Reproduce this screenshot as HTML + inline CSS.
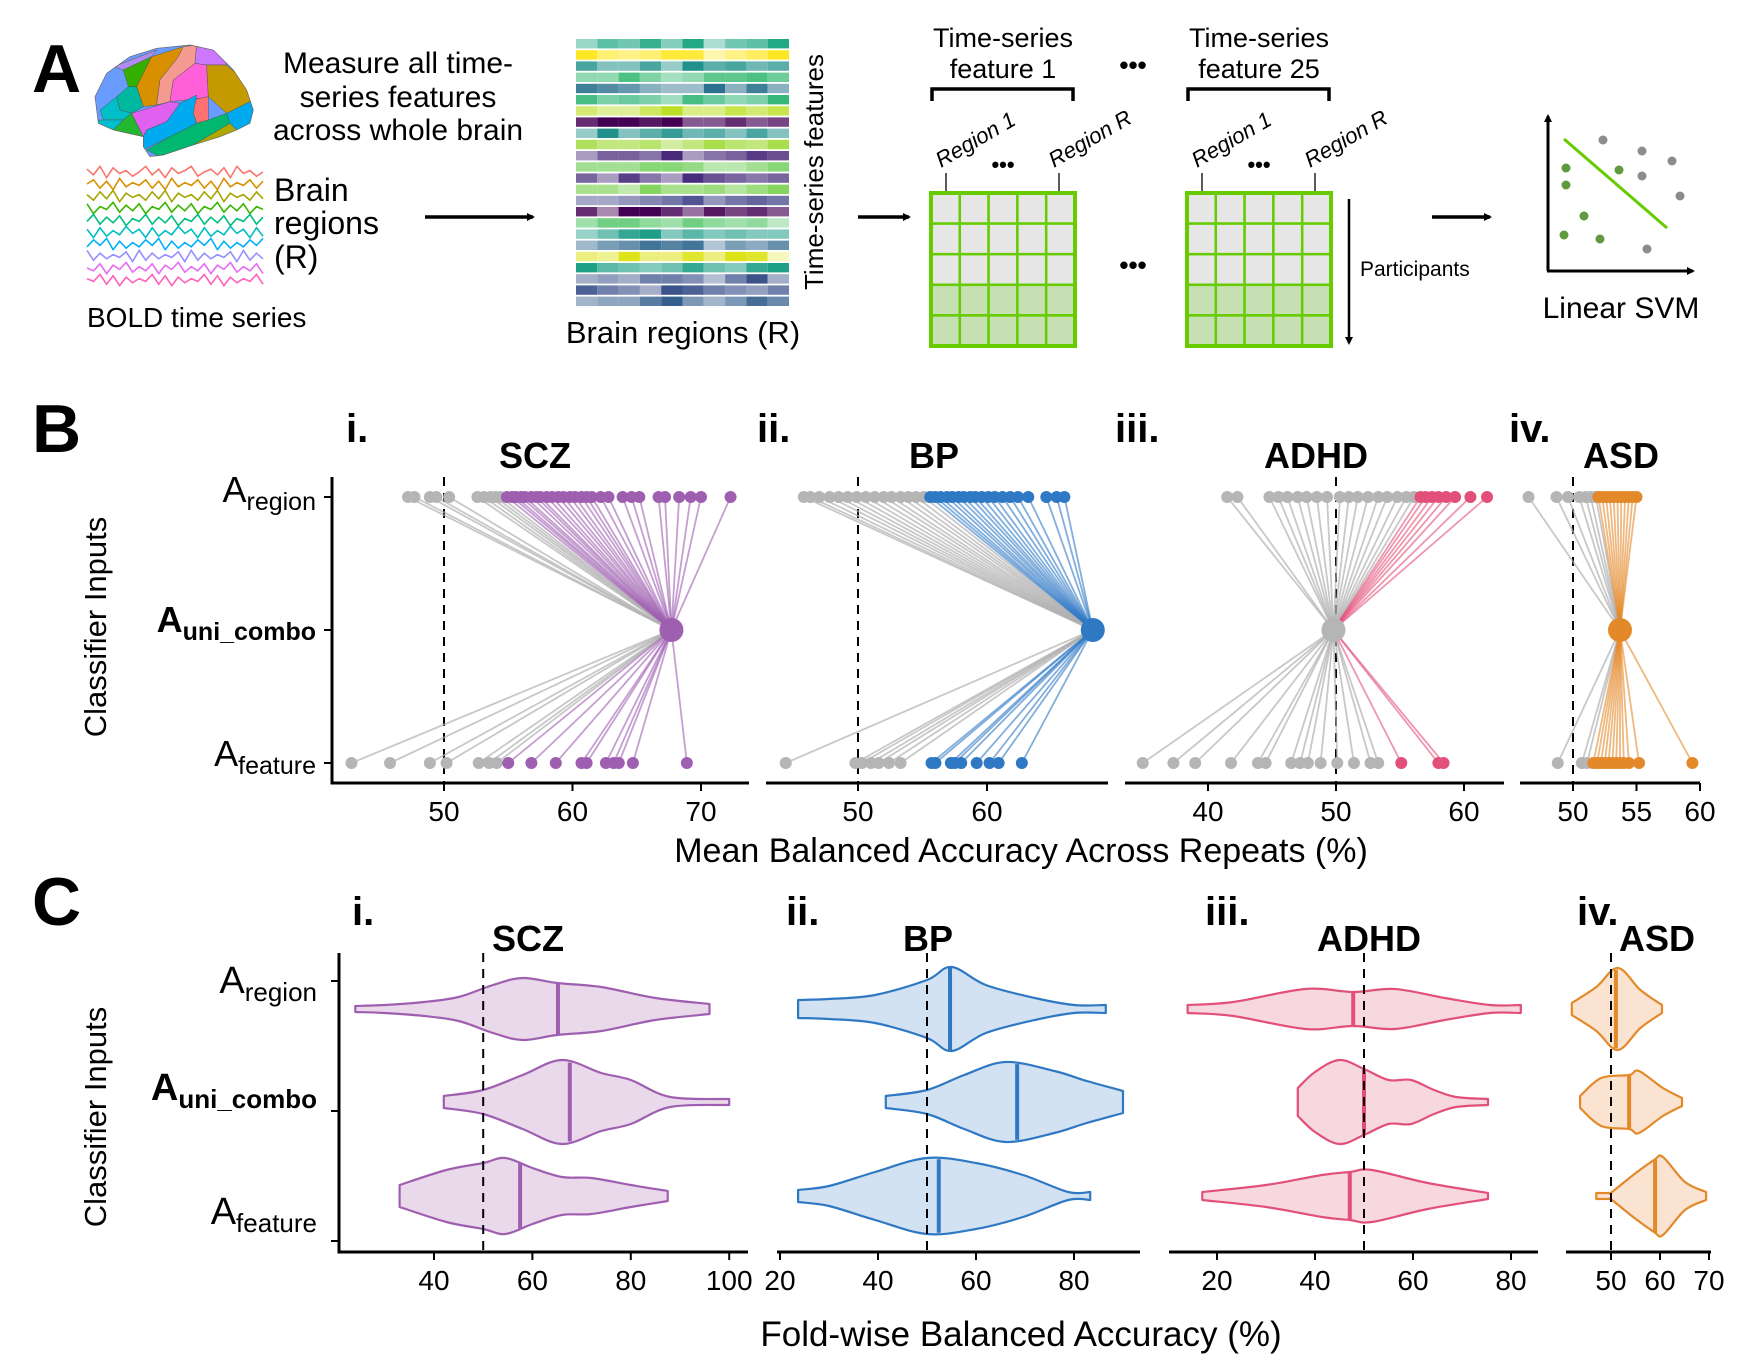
<!DOCTYPE html>
<html><head><meta charset="utf-8"><title>Figure</title>
<style>
html,body{margin:0;padding:0;background:#fff;}
svg{display:block;font-family:"Liberation Sans",sans-serif;}
.nar{font-family:"Liberation Sans Narrow","Liberation Sans",sans-serif;}
</style></head>
<body>
<svg id="fig" width="1751" height="1361" viewBox="0 0 1751 1361" xmlns="http://www.w3.org/2000/svg">
<defs>
<marker id="ah" markerWidth="8" markerHeight="8" refX="6" refY="4" orient="auto" markerUnits="userSpaceOnUse"><path d="M0,0 L8,4 L0,8 z" fill="#000"/></marker>
<clipPath id="brainclip"><path d="M45,200 L80,130 L150,80 L230,55 L330,45 L400,60 L460,120 L500,180 L520,240 L510,280 L470,300 L420,320 L340,345 L250,375 L210,380 L190,350 L190,320 L100,300 L55,280 Z"/></clipPath>
</defs>

<!-- PANEL A -->
<g>
<text x="32" y="92" font-size="68" font-weight="bold">A</text>
<g transform="translate(80,30) scale(0.3333)">
 <g clip-path="url(#brainclip)" stroke="#555" stroke-width="1.5">
  <rect x="0" y="0" width="600" height="420" fill="#6a9cff"/>
  <polygon fill="#b08cf0" points="100,110 230,60 215,80 130,120"/>
  <polygon fill="#33b000" points="130,120 215,80 170,170 145,170"/>
  <polygon fill="#d89000" points="215,80 310,50 295,80 240,150 230,225 190,230 170,170"/>
  <polygon fill="#f59a90" points="310,50 350,45 345,100 280,150 270,215 230,225 240,150 295,80"/>
  <polygon fill="#cc77ff" points="350,45 420,50 440,105 380,105 345,100"/>
  <polygon fill="#ff5fd8" points="280,150 345,100 380,105 385,200 360,205 320,210 270,215"/>
  <polygon fill="#c49a00" points="380,105 440,105 490,150 520,210 460,240 440,250 385,200"/>
  <polygon fill="#00b8a0" points="110,200 145,170 170,170 190,230 155,250 120,240"/>
  <polygon fill="#00bfc8" points="60,240 110,200 120,240 155,250 130,270 70,270"/>
  <polygon fill="#00c0d0" points="40,270 130,270 100,300 40,300"/>
  <polygon fill="#22b830" points="130,270 155,250 190,320 100,300"/>
  <polygon fill="#e060f0" points="155,250 270,215 300,220 260,275 200,300 190,320"/>
  <polygon fill="#ff7070" points="340,210 360,205 385,200 385,270 350,280 340,250"/>
  <polygon fill="#00aaf0" points="190,320 200,300 260,275 300,220 350,195 340,250 350,280 270,320 210,350 190,360"/>
  <polygon fill="#00b870" points="200,360 270,320 350,280 385,270 440,250 450,280 340,345 250,385"/>
  <polygon fill="#b0a800" points="250,385 340,345 450,280 470,300 420,330 340,360 260,390"/>
  <polygon fill="#00aaee" points="440,250 460,240 520,210 540,240 530,300 470,300 450,280"/>
 </g>
 <path d="M45,200 L80,130 L150,80 L230,55 L330,45 L400,60 L460,120 L500,180 L520,240 L510,280 L470,300 L420,320 L340,345 L250,375 L210,380 L190,350 L190,320 L100,300 L55,280 Z" fill="none" stroke="#666" stroke-width="2"/>
</g>
<text font-size="30" text-anchor="middle"><tspan x="398" y="73">Measure all time-</tspan><tspan x="398" y="107">series features</tspan><tspan x="398" y="140">across whole brain</tspan></text>
<g id="bold-traces"></g>
<text font-size="32"><tspan x="274" y="201">Brain</tspan><tspan x="274" y="234">regions</tspan><tspan x="274" y="268">(R)</tspan></text>
<text x="87" y="327" font-size="28">BOLD time series</text>
<line x1="425" y1="217" x2="533" y2="217" stroke="#000" stroke-width="3.5" marker-end="url(#ah)"/>
<g id="heatmap"></g>
<text transform="translate(823,172) rotate(-90)" font-size="26" text-anchor="middle">Time-series features</text>
<text x="683" y="343" font-size="31" text-anchor="middle">Brain regions (R)</text>
<line x1="858" y1="217" x2="909" y2="217" stroke="#000" stroke-width="3.5" marker-end="url(#ah)"/>
<g id="grids"></g>
<text x="1133" y="74" font-size="26" font-weight="bold" text-anchor="middle">•••</text>
<text x="1133" y="274" font-size="26" font-weight="bold" text-anchor="middle">•••</text>
<line x1="1349" y1="199" x2="1349" y2="343" stroke="#000" stroke-width="2.5" marker-end="url(#ah)"/>
<text x="1360" y="276" font-size="21">Participants</text>
<line x1="1432" y1="217" x2="1490" y2="217" stroke="#000" stroke-width="3.5" marker-end="url(#ah)"/>
<g>
 <line x1="1548" y1="271" x2="1548" y2="116" stroke="#000" stroke-width="3" marker-end="url(#ah)"/>
 <line x1="1547" y1="271" x2="1693" y2="271" stroke="#000" stroke-width="3" marker-end="url(#ah)"/>
 <line x1="1564" y1="139" x2="1667" y2="228" stroke="#66cc00" stroke-width="3"/>
 <g fill="#5f9a3c"><circle cx="1566" cy="168" r="4.5"/><circle cx="1566" cy="185" r="4.5"/><circle cx="1619" cy="170" r="4.5"/><circle cx="1584" cy="216" r="4.5"/><circle cx="1564" cy="235" r="4.5"/><circle cx="1600" cy="239" r="4.5"/></g>
 <g fill="#8c8c8c"><circle cx="1603" cy="140" r="4.5"/><circle cx="1642" cy="151" r="4.5"/><circle cx="1672" cy="161" r="4.5"/><circle cx="1642" cy="176" r="4.5"/><circle cx="1680" cy="196" r="4.5"/><circle cx="1647" cy="249" r="4.5"/></g>
</g>
<text x="1621" y="318" font-size="30" text-anchor="middle">Linear SVM</text>
</g>

<!-- PANEL B -->
<g id="panelB">
<text x="32" y="452" font-size="68" font-weight="bold">B</text>
<text transform="translate(106,627) rotate(-90)" font-size="31" text-anchor="middle">Classifier Inputs</text>
<text x="316" y="502" font-size="36" text-anchor="end">A<tspan font-size="25" dy="8">region</tspan></text>
<text x="316" y="632" font-size="36" font-weight="bold" text-anchor="end">A<tspan font-size="25" dy="8">uni_combo</tspan></text>
<text x="316" y="766" font-size="36" text-anchor="end">A<tspan font-size="25" dy="8">feature</tspan></text>
<text x="1021" y="862" font-size="34" text-anchor="middle" class="nar">Mean Balanced Accuracy Across Repeats (%)</text>
</g>

<!-- PANEL C -->
<g id="panelC">
<text x="32" y="925" font-size="68" font-weight="bold">C</text>
<text transform="translate(106,1117) rotate(-90)" font-size="31" text-anchor="middle">Classifier Inputs</text>
<text x="317" y="993" font-size="38" text-anchor="end" class="nar">A<tspan font-size="26" dy="8">region</tspan></text>
<text x="317" y="1100" font-size="38" font-weight="bold" text-anchor="end" class="nar">A<tspan font-size="26" dy="8">uni_combo</tspan></text>
<text x="317" y="1224" font-size="38" text-anchor="end" class="nar">A<tspan font-size="26" dy="8">feature</tspan></text>
<text x="1021" y="1346" font-size="35" text-anchor="middle" class="nar">Fold-wise Balanced Accuracy (%)</text>
</g>
</svg>

<script>
const NS = "http://www.w3.org/2000/svg";
const svg = document.getElementById('fig');

/* ---------- Panel A decoration data ---------- */
const traceColors = ["#f8766d","#d89000","#a3a500","#39b600","#00bf7d","#00bfc4","#00b0f6","#9590ff","#e76bf3","#ff62bc"];
const traceDigits = ["3719264851739264185372916485","5283917462839174628391746283","4827193648271936482719364827","2946183729461837294618372946",
 "6183729461837294618372946183","3928471639284716392847163928","7261938472619384726193847261","1837462918374629183746291837",
 "5729361847293618472936184729","4618293746182937461829374618"];
const heatColors = ["#22a884","#fde725","#21918c","#3bbb75","#2c728e","#35b779","#bddf26","#440154","#21918c","#a0da39","#482878","#6ece58",
 "#472d7b","#7ad151","#414487","#440154","#52c569","#1f9e89","#31688e","#dde318","#1fa187","#3b528b","#3b528b","#355f8d"];
const heatShade = ["3658492569","9545882469","7447396756","4485347786","8764339484","8565386459","5336944757","7998955756","3946856474","7556358658",
 "3665935687","5557763357","6385397656","5538556468","3345684676","7399748675","4775475452","3589464544","3568782546","4394484981",
 "9654585489","3436652693","8653986546","3447953586"];

function el(tag, attrs, parent){
  const e = document.createElementNS(NS, tag);
  for (const k in attrs) e.setAttribute(k, attrs[k]);
  (parent || svg).appendChild(e);
  return e;
}
function mix(hex, t){
  const r=parseInt(hex.substr(1,2),16), g=parseInt(hex.substr(3,2),16), b=parseInt(hex.substr(5,2),16);
  const f=c=>Math.round(255-(255-c)*t);
  return `rgb(${f(r)},${f(g)},${f(b)})`;
}

const gT = document.getElementById('bold-traces');
traceDigits.forEach((s,i)=>{
  const y0 = 172 + i*12;
  const pts = s.split('').map((d,j)=>`${(87 + j*176/(s.length-1)).toFixed(1)},${(y0 + (Number(d)-5)*1.4).toFixed(1)}`);
  const p = el('polyline',{points:pts.join(' '), fill:'none', stroke:traceColors[i], 'stroke-width':1.6}, gT);
  
  
});

const gH = document.getElementById('heatmap');
heatColors.forEach((c,r)=>{
  for (let k=0;k<10;k++){
    const t = Number(heatShade[r][k])/9*0.8+0.2;
    const rc = el('rect',{x:576+k*21.3, y:39+r*11.2, width:21.3, height:9.4, fill:mix(c,t)}, gH);
    
    
  }
});

const gG = document.getElementById('grids');
const gridXs = [931, 1187];
const gridTitles = ["feature 1","feature 25"];
gridXs.forEach((gx,gi)=>{
  const w=144, h=153, gy=193;
  for (let r=0;r<5;r++) for (let c=0;c<5;c++){
    const cell = el('rect',{x:gx+c*w/5, y:gy+r*h/5, width:w/5, height:h/5, fill:r<3?'#e6e6e6':'#c6e0b4', stroke:'#66cc00', 'stroke-width':2.5}, gG);
    
    
  }
  const bd = el('rect',{x:gx, y:gy, width:w, height:h, fill:'none', stroke:'#66cc00', 'stroke-width':4}, gG);
  
  
  const cx = gx + 72;
  const t1 = el('text',{x:cx, y:47, 'font-size':27, 'text-anchor':'middle'}, gG); t1.textContent='Time-series';
  
  
  const t2 = el('text',{x:cx, y:78, 'font-size':27, 'text-anchor':'middle'}, gG); t2.textContent=gridTitles[gi];
  
  
  const br = el('path',{d:`M${gx+1},101 L${gx+1},89 L${gx+w-2},89 L${gx+w-2},101`, fill:'none', stroke:'#000', 'stroke-width':3.5}, gG);
  
  
  [[15,'Region 1'],[128,'Region R']].forEach(([dx,lab])=>{
    const ln = el('line',{x1:gx+dx, y1:173, x2:gx+dx, y2:191, stroke:'#000', 'stroke-width':1.3}, gG);
    
    
    const tx = el('text',{transform:`translate(${gx+dx-5},168) rotate(-30)`, 'font-size':22, 'font-style':'italic'}, gG);
    tx.textContent = lab;
    
    
  });
  const dots = el('text',{x:gx+72, y:172, 'font-size':22, 'font-weight':'bold', 'text-anchor':'middle'}, gG);
  dots.textContent='•••';
  
  
});

/* ---------- Panel B data ---------- */
const disorders = ["SCZ","BP","ADHD","ASD"];
const romans = ["i.","ii.","iii.","iv."];
const sigColors = ["#9f5fb0","#2f78c4","#e2507a","#e4892a"];
const comboValues = [67.7, 68.2, 49.8, 53.7];
const comboSig = [true, true, false, true];
const bTicks = [[50,60,70],[50,60],[40,50,60],[50,55,60]];
const regionGray = [
 [47.2,47.7,48.9,49.4,50.4,52.6,53.1,53.6,54.0,54.4],
 [45.8,46.3,47.0,47.8,48.5,49.2,49.9,50.6,51.3,52.0,52.6,53.3,53.9,54.5,55.1],
 [41.5,42.3,44.8,45.5,46.2,47.0,47.7,48.5,49.3,50.3,51.0,51.7,52.5,53.3,54.0,54.8,55.5,56.1],
 [46.5,48.7,49.6,50.5,51.0,51.4,51.8]];
const regionSig = [
 [54.9,55.3,55.6,56.0,56.3,56.8,57.2,57.5,58.0,58.4,58.9,59.3,59.8,60.2,60.7,61.1,61.5,62.2,62.8,63.9,64.6,65.2,66.7,67.2,68.3,69.2,70.0,72.3],
 [55.6,56.0,56.4,56.9,57.3,57.8,58.2,58.7,59.1,59.6,60.1,60.6,61.2,61.8,62.4,63.2,64.6,65.4,66.0],
 [56.6,57.0,57.5,58.0,58.6,59.3,60.5,61.8],
 [52.0,52.3,52.6,52.9,53.2,53.5,53.8,54.1,54.4,54.7,55.0]];
const featureGray = [
 [42.8,45.8,48.9,50.2,52.7,53.5,54.1],
 [44.4,49.8,50.3,51.0,51.6,52.4,53.3],
 [34.9,37.3,39.0,41.8,43.9,44.5,46.5,47.2,47.8,48.8,50.1,51.4,52.7,53.3],
 [48.8,50.7,51.1]];
const featureSig = [
 [55.0,56.8,58.7,60.7,61.1,62.6,63.2,63.6,64.7,68.9],
 [55.7,56.0,57.2,57.5,58.0,59.2,60.2,60.9,62.7],
 [55.1,58.0,58.4],
 [51.6,51.9,52.2,52.5,52.8,53.1,53.4,53.7,54.0,54.4,55.2,59.4]];

const bAxes = [
 {x0:332, x1:749, ref:50, refPx:444, k:12.85, title:535, roman:346},
 {x0:766, x1:1108, ref:50, refPx:858, k:12.9, title:934, roman:757},
 {x0:1125, x1:1504, ref:50, refPx:1336, k:12.8, title:1316, roman:1115},
 {x0:1520, x1:1700, ref:50, refPx:1573, k:12.7, title:1621, roman:1509}];
const B_Y = {region:497, combo:630, feature:763, axis:783, top:477};

const gB = document.getElementById('panelB');
disorders.forEach((name,i)=>{
  const ax = bAxes[i];
  const xs = v => ax.refPx + (v - ax.ref)*ax.k;
  const g = el('g',{}, gB);
  
  
  const rt = el('text',{x:ax.roman, y:442, 'font-size':40, 'font-weight':'bold', class:'nar'}, g); rt.textContent=romans[i];
  
  
  const tt = el('text',{x:ax.title, y:468, 'font-size':36, 'font-weight':'bold', 'text-anchor':'middle', class:'nar'}, g); tt.textContent=name;
  
  
  const dl = el('line',{x1:xs(50), y1:B_Y.top, x2:xs(50), y2:B_Y.axis, stroke:'#000', 'stroke-width':2, 'stroke-dasharray':'9,7'}, g);
  
  
  const xl = el('line',{x1:ax.x0, y1:B_Y.axis, x2:ax.x1, y2:B_Y.axis, stroke:'#000', 'stroke-width':3}, g);
  
  
  bTicks[i].forEach(t=>{
    const tk = el('line',{x1:xs(t), y1:B_Y.axis, x2:xs(t), y2:B_Y.axis+8, stroke:'#000', 'stroke-width':2}, g);
    
    
    const tl = el('text',{x:xs(t), y:B_Y.axis+38, 'font-size':28, 'text-anchor':'middle', class:'nar'}, g); tl.textContent=t;
    
    
  });
  if (i===0){
    const yl = el('line',{x1:ax.x0, y1:B_Y.top, x2:ax.x0, y2:B_Y.axis+1.5, stroke:'#000', 'stroke-width':3}, g);
    
    
    [B_Y.region,B_Y.combo,B_Y.feature].forEach(y=>{
      const yt = el('line',{x1:ax.x0-8, y1:y, x2:ax.x0, y2:y, stroke:'#000', 'stroke-width':2}, g);
      
      
    });
  }
  const cx = xs(comboValues[i]), cy = B_Y.combo;
  const sets = [[regionGray[i],B_Y.region,false],[featureGray[i],B_Y.feature,false],[regionSig[i],B_Y.region,true],[featureSig[i],B_Y.feature,true]];
  sets.forEach(([arr,y,sig])=>{
    arr.forEach(v=>{
      const ln = el('line',{x1:xs(v), y1:y, x2:cx, y2:cy, stroke:sig?sigColors[i]:'#b0b0b0', 'stroke-width':1.8, 'stroke-opacity':sig?0.6:0.7}, g);
      
      
    });
  });
  sets.forEach(([arr,y,sig])=>{
    arr.forEach(v=>{
      const d = el('circle',{cx:xs(v), cy:y, r:6, fill:sig?sigColors[i]:'#b5b5b5'}, g);
      
      
    });
  });
  const cd = el('circle',{cx:cx, cy:cy, r:12, fill:comboSig[i]?sigColors[i]:'#b5b5b5'}, g);
  
  
});

/* ---------- Panel C data (violins) ---------- */
const violinFills = ["#ead9ea","#d3e2f2","#f8d8e0","#fae4d1"];
const cTicks = [[40,60,80,100],[20,40,60,80],[20,40,60,80],[50,60,70]];
const sczRegionVals = [24,30,38,45,52,58,65,74,85,96];
const sczRegionDens = [3,4,7,12,24,31,26,22,11,5];
const sczComboVals = [42,50,58,66,74,80,88,100];
const sczComboDens = [6,12,27,42,29,22,5,3];
const sczFeatureVals = [33,42.5,50,54.5,60,66,72,80,87.5];
const sczFeatureDens = [11,26,33,38,28,19,18,11,5];
const bpRegionVals = [23.7,30,39.4,50,55,62,72,80,86.5];
const bpRegionDens = [9,10,14,29,42,24,11,4,4];
const bpComboVals = [41.6,50,57.6,66,76,82.6,90];
const bpComboDens = [6,12,27,40,31,21,11];
const bpFeatureVals = [23.7,30,39.4,50,60,69.6,78.8,83.3];
const bpFeatureDens = [6,10,24,38,33,21,4,4];
const adhdRegionVals = [14,23.3,38,47.8,56.3,66.5,75.7,82];
const adhdRegionDens = [4,7,20,17,20,11,4,4];
const adhdComboVals = [36.5,40,45,50,55,59.6,64.3,68.8,75.3];
const adhdComboDens = [14,30,42,33,22,22,12,5,3];
const adhdFeatureVals = [17,30,41.4,47.1,51.6,63,75.3];
const adhdFeatureDens = [4,11,21,24,26,13,3];
const asdRegionVals = [42,47,51.4,56,60.4];
const asdRegionDens = [6,22,41,19,4];
const asdComboVals = [43.7,48,53.7,55.7,60.6,64.5];
const asdComboDens = [6,24,27,31,14,4];
const asdFeatureVals = [47,49.5,50.2,54.8,58.8,60.6,65.1,69.4];
const asdFeatureDens = [3,3,4,22,36,39,14,4];
const medians = [[65.2,67.6,57.5],[54.7,68.4,52.4],[47.8,50.0,47.1],[51.0,53.7,59.0]];
const violinVals = [[sczRegionVals,sczComboVals,sczFeatureVals],[bpRegionVals,bpComboVals,bpFeatureVals],[adhdRegionVals,adhdComboVals,adhdFeatureVals],[asdRegionVals,asdComboVals,asdFeatureVals]];
const violinDens = [[sczRegionDens,sczComboDens,sczFeatureDens],[bpRegionDens,bpComboDens,bpFeatureDens],[adhdRegionDens,adhdComboDens,adhdFeatureDens],[asdRegionDens,asdComboDens,asdFeatureDens]];

const cAxes = [
 {x0:339, x1:748, ref:40, refPx:434, k:4.92, title:528, roman:352},
 {x0:777, x1:1140, ref:20, refPx:780, k:4.9, title:928, roman:786},
 {x0:1169, x1:1538, ref:20, refPx:1217, k:4.9, title:1369, roman:1205},
 {x0:1566, x1:1711, ref:50, refPx:1611, k:4.9, title:1657, roman:1577}];
const C_Y = {ticks:[981,1111,1241], centers:[1009,1102,1196], axis:1252, top:953};

function smoothPath(pts, move){
  let d = move ? `M${pts[0][0].toFixed(1)},${pts[0][1].toFixed(1)}` : `L${pts[0][0].toFixed(1)},${pts[0][1].toFixed(1)}`;
  for (let i=0;i<pts.length-1;i++){
    const p0=pts[i-1]||pts[i], p1=pts[i], p2=pts[i+1], p3=pts[i+2]||p2;
    const c1=[p1[0]+(p2[0]-p0[0])/6, p1[1]+(p2[1]-p0[1])/6];
    const c2=[p2[0]-(p3[0]-p1[0])/6, p2[1]-(p3[1]-p1[1])/6];
    d += ` C${c1[0].toFixed(1)},${c1[1].toFixed(1)} ${c2[0].toFixed(1)},${c2[1].toFixed(1)} ${p2[0].toFixed(1)},${p2[1].toFixed(1)}`;
  }
  return d;
}
function interp(vals, dens, v){
  if (v<=vals[0]) return dens[0];
  for (let i=0;i<vals.length-1;i++) if (v<=vals[i+1]){
    const t=(v-vals[i])/(vals[i+1]-vals[i]); return dens[i]+(dens[i+1]-dens[i])*t;
  }
  return dens[dens.length-1];
}

const gC = document.getElementById('panelC');
disorders.forEach((name,i)=>{
  const ax = cAxes[i];
  const xs = v => ax.refPx + (v - ax.ref)*ax.k;
  const g = el('g',{}, gC);
  
  
  const rt = el('text',{x:ax.roman, y:925, 'font-size':40, 'font-weight':'bold', class:'nar'}, g); rt.textContent=romans[i];
  
  
  const tt = el('text',{x:ax.title, y:951, 'font-size':36, 'font-weight':'bold', 'text-anchor':'middle', class:'nar'}, g); tt.textContent=name;
  
  
  for (let r=0;r<3;r++){
    const vals = violinVals[i][r], dens = violinDens[i][r], cy = C_Y.centers[r];
    const top = vals.map((v,j)=>[xs(v), cy-dens[j]]);
    const bot = vals.map((v,j)=>[xs(v), cy+dens[j]]).reverse();
    const d = smoothPath(top,true) + ' ' + smoothPath(bot,false) + ' Z';
    const vp = el('path',{d:d, fill:violinFills[i], stroke:sigColors[i], 'stroke-width':2.2, 'stroke-linejoin':'round'}, g);
    
    
    const m = medians[i][r], hw = interp(vals,dens,m);
    const ml = el('line',{x1:xs(m), y1:cy-hw, x2:xs(m), y2:cy+hw, stroke:sigColors[i], 'stroke-width':4}, g);
    
    
  }
  const dl = el('line',{x1:xs(50), y1:C_Y.top, x2:xs(50), y2:C_Y.axis, stroke:'#000', 'stroke-width':2, 'stroke-dasharray':'9,7'}, g);
  
  
  const xl = el('line',{x1:ax.x0, y1:C_Y.axis, x2:ax.x1, y2:C_Y.axis, stroke:'#000', 'stroke-width':3}, g);
  
  
  cTicks[i].forEach(t=>{
    const tk = el('line',{x1:xs(t), y1:C_Y.axis, x2:xs(t), y2:C_Y.axis+8, stroke:'#000', 'stroke-width':2}, g);
    
    
    const tl = el('text',{x:xs(t), y:C_Y.axis+38, 'font-size':28, 'text-anchor':'middle', class:'nar'}, g); tl.textContent=t;
    
    
  });
  if (i===0){
    const yl = el('line',{x1:ax.x0, y1:C_Y.top, x2:ax.x0, y2:C_Y.axis+1.5, stroke:'#000', 'stroke-width':3}, g);
    
    
    C_Y.ticks.forEach(y=>{
      const yt = el('line',{x1:ax.x0-8, y1:y, x2:ax.x0, y2:y, stroke:'#000', 'stroke-width':2}, g);
      
      
    });
  }
});
</script>
</body></html>
